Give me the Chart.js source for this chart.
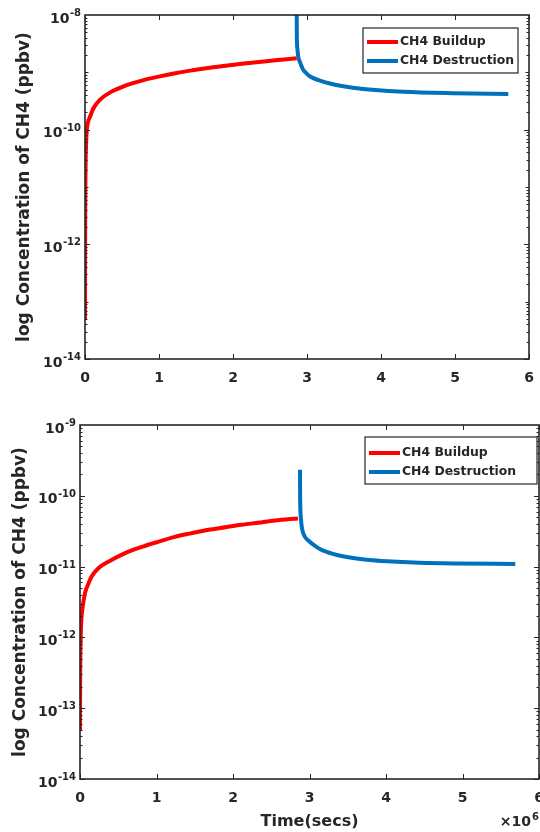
<!DOCTYPE html>
<html>
<head>
<meta charset="utf-8">
<script src="https://cdn.jsdelivr.net/npm/chart.js@4/dist/chart.umd.min.js"></script>
<style>
  html, body { margin: 0; padding: 0; background: #fff; }
  #wrap { position: relative; width: 540px; height: 832px; overflow: hidden; }
  canvas { position: absolute; left: 0; }
</style>
</head>
<body>
<div id="wrap">
  <canvas id="c1" width="540" height="405" style="top:0px"></canvas>
  <canvas id="c2" width="540" height="427" style="top:405px"></canvas>
</div>
<script>
// ---------- Data (time in units of 1e6 s, concentration in ppbv) ----------
const seriesLabels = ['CH4 Buildup', 'CH4 Destruction'];
const xTickValues = [0, 1, 2, 3, 4, 5, 6];
const topYTickExps = [-14, -12, -10, -8];
const bottomYTickExps = [-14, -13, -12, -11, -10, -9];

// Top panel
const topBuildTime = [0, 0.001, 0.003, 0.006, 0.01, 0.02, 0.035, 0.068, 0.112, 0.2, 0.34, 0.56, 0.79, 1.01, 1.24, 1.45, 1.66, 1.9, 2.12, 2.35, 2.57, 2.86];
const topBuildConc = [4.8e-14, 5.0e-13, 4.0e-12, 1.41e-11, 3.5e-11, 8.3e-11, 1.26e-10, 1.68e-10, 2.34e-10, 3.31e-10, 4.47e-10, 5.96e-10, 7.33e-10, 8.51e-10, 9.77e-10, 1.084e-9, 1.19e-9, 1.30e-9, 1.41e-9, 1.51e-9, 1.62e-9, 1.76e-9];
const topDestTime = [2.861, 2.862, 2.865, 2.872, 2.882, 2.905, 2.928, 2.95, 2.98, 3.018, 3.085, 3.176, 3.31, 3.45, 3.62, 3.92, 4.30, 4.97, 5.72];
const topDestConc = [1.0e-8, 5.5e-9, 3.24e-9, 2.45e-9, 1.86e-9, 1.51e-9, 1.26e-9, 1.10e-9, 1.0e-9, 8.9e-10, 7.94e-10, 7.16e-10, 6.38e-10, 5.82e-10, 5.37e-10, 4.9e-10, 4.57e-10, 4.32e-10, 4.17e-10];

// Bottom panel
const botBuildTime = [0, 0.002, 0.006, 0.013, 0.03, 0.065, 0.11, 0.15, 0.24, 0.37, 0.59, 0.81, 1.0, 1.24, 1.45, 1.68, 1.9, 2.11, 2.33, 2.55, 2.85];
const botBuildConc = [4.8e-14, 2.5e-13, 6.6e-13, 1.41e-12, 2.45e-12, 4.2e-12, 5.75e-12, 7.2e-12, 9.5e-12, 1.17e-11, 1.55e-11, 1.9e-11, 2.21e-11, 2.63e-11, 2.95e-11, 3.31e-11, 3.59e-11, 3.89e-11, 4.17e-11, 4.47e-11, 4.79e-11];
const botDestTime = [2.876, 2.877, 2.879, 2.889, 2.906, 2.941, 2.984, 3.05, 3.11, 3.18, 3.36, 3.57, 3.78, 4.01, 4.44, 4.88, 5.69];
const botDestConc = [2.34e-10, 1.2e-10, 7.8e-11, 4.6e-11, 3.3e-11, 2.63e-11, 2.34e-11, 2.04e-11, 1.84e-11, 1.68e-11, 1.46e-11, 1.32e-11, 1.24e-11, 1.19e-11, 1.135e-11, 1.109e-11, 1.09e-11];

const RED = '#FF0000';
const BLUE = '#0072BD';
const INK = '#262626';
const FONT = '"DejaVu Sans", "Liberation Sans", Arial, sans-serif';

function pts(xs, ys) { return xs.map((x, i) => ({ x: x, y: ys[i] })); }

function makeDecor(cfg) {
  return {
    id: 'decor',
    afterDatasetsDraw(chart) {
      const ctx = chart.ctx;
      const a = chart.chartArea;
      const xs = chart.scales.x, ys = chart.scales.y;
      ctx.save();
      // ticks (inward, all four sides)
      ctx.strokeStyle = INK;
      ctx.lineWidth = 1;
      ctx.beginPath();
      xTickValues.forEach(v => {
        const px = Math.round(xs.getPixelForValue(v)) + 0.5;
        ctx.moveTo(px, a.bottom); ctx.lineTo(px, a.bottom - 5);
        ctx.moveTo(px, a.top); ctx.lineTo(px, a.top + 5);
      });
      for (let e = cfg.minExp; e < cfg.maxExp; e++) {
        for (let m = 1; m <= 9; m++) {
          const v = m * Math.pow(10, e);
          const py = Math.round(ys.getPixelForValue(v)) + 0.5;
          const major = (m === 1 && cfg.yExps.includes(e));
          const len = major ? 5 : (m === 1 ? 3.5 : 2.5);
          ctx.moveTo(a.left, py); ctx.lineTo(a.left + len, py);
          ctx.moveTo(a.right, py); ctx.lineTo(a.right - len, py);
        }
      }
      ctx.stroke();
      // box
      ctx.lineWidth = 1.6;
      ctx.strokeRect(a.left, a.top, a.right - a.left, a.bottom - a.top);

      ctx.fillStyle = INK;
      // x tick labels
      ctx.font = 'bold 14px ' + FONT;
      ctx.textAlign = 'center';
      ctx.textBaseline = 'middle';
      xTickValues.forEach(v => {
        ctx.fillText(String(v), xs.getPixelForValue(v), a.bottom + 19);
      });
      // y tick labels 10^e
      cfg.yExps.forEach(e => {
        const py = ys.getPixelForValue(Math.pow(10, e));
        const sup = String(e);
        ctx.font = 'bold 10px ' + FONT;
        const sw = ctx.measureText(sup).width;
        ctx.textAlign = 'right';
        ctx.textBaseline = 'middle';
        ctx.fillText(sup, a.left - 4, py - 1.5);
        ctx.font = 'bold 14px ' + FONT;
        ctx.fillText('10', a.left - 4 - sw - 0.5, py + 4);
      });
      // y title
      ctx.save();
      ctx.translate(cfg.yTitleX, (a.top + a.bottom) / 2);
      ctx.rotate(-Math.PI / 2);
      ctx.font = 'bold 17px ' + FONT;
      ctx.textAlign = 'center';
      ctx.textBaseline = 'middle';
      ctx.fillText('log Concentration of CH4 (ppbv)', 0, 0);
      ctx.restore();
      // x title and exponent
      if (cfg.xTitle) {
        ctx.font = 'bold 16px ' + FONT;
        ctx.textAlign = 'center';
        ctx.textBaseline = 'middle';
        ctx.fillText('Time(secs)', (a.left + a.right) / 2, a.bottom + 43);
        ctx.font = 'bold 10px ' + FONT;
        ctx.textAlign = 'right';
        const w6 = ctx.measureText('6').width;
        ctx.fillText('6', 539, a.bottom + 38);
        ctx.font = 'bold 14px ' + FONT;
        ctx.fillText('\u00D710', 539 - w6 - 1, a.bottom + 43);
      }
      // legend
      const L = cfg.legend;
      ctx.fillStyle = '#fff';
      ctx.fillRect(L.x, L.y, L.w, L.h);
      ctx.lineWidth = 1.2;
      ctx.strokeStyle = INK;
      ctx.strokeRect(L.x, L.y, L.w, L.h);
      chart.data.datasets.forEach((ds, i) => {
        const yy = L.y + L.row0 + i * L.dy;
        ctx.strokeStyle = ds.borderColor;
        ctx.lineWidth = 4;
        ctx.beginPath();
        ctx.moveTo(L.x + 4, yy); ctx.lineTo(L.x + 35, yy);
        ctx.stroke();
        ctx.fillStyle = INK;
        ctx.font = 'bold 12.4px ' + FONT;
        ctx.textAlign = 'left';
        ctx.textBaseline = 'middle';
        ctx.fillText(ds.label, L.x + 37, yy);
      });
      ctx.restore();
    }
  };
}

function makeChart(id, build, dest, yMax, pad, cfg) {
  return new Chart(document.getElementById(id), {
    type: 'line',
    data: {
      datasets: [
        { label: seriesLabels[0], data: build, borderColor: RED, backgroundColor: RED, borderWidth: 4, pointRadius: 0, cubicInterpolationMode: 'monotone', fill: false },
        { label: seriesLabels[1], data: dest, borderColor: BLUE, backgroundColor: BLUE, borderWidth: 4, pointRadius: 0, cubicInterpolationMode: 'monotone', fill: false }
      ]
    },
    options: {
      responsive: false,
      animation: false,
      devicePixelRatio: 1,
      layout: { padding: pad },
      plugins: { legend: { display: false }, tooltip: { enabled: false } },
      scales: {
        x: { type: 'linear', min: 0, max: 6, ticks: { display: false, stepSize: 1 }, grid: { display: false }, border: { display: false },
             afterFit: s => { s.height = 0; } },
        y: { type: 'logarithmic', min: 1e-14, max: yMax, ticks: { display: false }, grid: { display: false }, border: { display: false },
             afterFit: s => { s.width = 0; } }
      }
    },
    plugins: [makeDecor(cfg)]
  });
}

makeChart('c1', pts(topBuildTime, topBuildConc), pts(topDestTime, topDestConc), 1e-8,
  { left: 85, top: 15, right: 11, bottom: 46 },
  { minExp: -14, maxExp: -8, yExps: topYTickExps, yTitleX: 25, xTitle: false,
    legend: { x: 363, y: 28, w: 155, h: 45, row0: 14, dy: 19 } });

makeChart('c2', pts(botBuildTime, botBuildConc), pts(botDestTime, botDestConc), 1e-9,
  { left: 80, top: 20, right: 1, bottom: 53 },
  { minExp: -14, maxExp: -9, yExps: bottomYTickExps, yTitleX: 21, xTitle: true,
    legend: { x: 365, y: 32, w: 172, h: 47, row0: 16, dy: 19 } });
</script>
</body>
</html>
